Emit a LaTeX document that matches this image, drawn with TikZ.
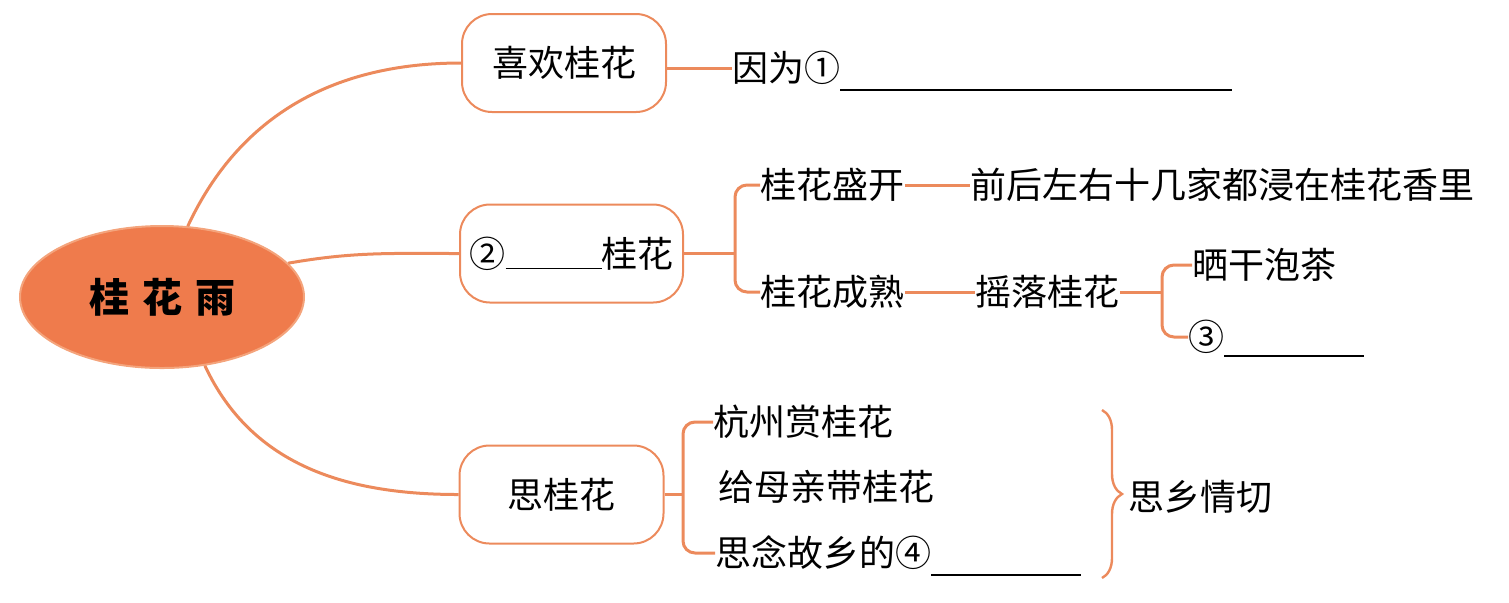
\documentclass[tikz,border=0pt]{standalone}
\usepackage{fontspec}
\usepackage{xcolor}
\usepackage{tikz}
\usetikzlibrary{positioning,shapes.geometric,decorations.pathreplacing}
\newfontfamily\cjk{Noto Sans CJK SC}
\definecolor{guihua}{HTML}{EF7B4C}
\definecolor{guiline}{HTML}{EC8A5C}
\definecolor{guiedge}{HTML}{F4A47C}

\begin{document}
\begin{tikzpicture}[x=0.5pt,y=-0.5pt,
    font=\cjk\fontsize{18}{22}\selectfont,
    topic/.style={draw=guiline,line width=1pt,rounded corners=15pt,minimum width=102pt,minimum height=49pt,inner sep=0pt},
    leaf/.style={anchor=west,inner sep=0pt},
    branch/.style={draw=guiline,line width=1.5pt},
    bracket/.style={branch,rounded corners=6pt}]
    \useasboundingbox (0,0) rectangle (1509,602);
    \node[ellipse,fill=guihua,draw=guiedge,line width=1pt,minimum width=142pt,minimum height=71pt,font=\cjk\bfseries\fontsize{20}{24}\selectfont] (root) at (162,297) {桂\hspace{6.5pt}花\hspace{6.5pt}雨};
    \node[topic] (like) at (564,63) {喜欢桂花};
    \node[topic,minimum width=111.5pt] (smell) at (571.5,253.5) {②\smash{\rule[-1pt]{48pt}{0.7pt}}桂花};
    \node[topic] (miss) at (561.5,494.5) {思桂花};
    \node[leaf] (because) at (732,68) {因为①\smash{\rule[-4.5pt]{196pt}{0.7pt}}};
    \node[leaf] (bloom) at (760,185) {桂花盛开};
    \node[leaf] (scent) at (970,185) {前后左右十几家都浸在桂花香里};
    \node[leaf] (ripe) at (760,292) {桂花成熟};
    \node[leaf] (shake) at (975,292) {摇落桂花};
    \node[leaf] (tea) at (1192,265) {晒干泡茶};
    \node[leaf] (blank3) at (1188,337) {③\smash{\rule[-3pt]{70pt}{0.7pt}}};
    \node[leaf] (hz) at (713,422) {杭州赏桂花};
    \node[leaf] (gift) at (718,487) {给母亲带桂花};
    \node[leaf] (think) at (715,553) {思念故乡的④\smash{\rule[-4.5pt]{75pt}{0.7pt}}};
    \node[leaf] (home) at (1128,497) {思乡情切};
    \draw[branch] (root.70) to[out=65,in=180] (like.west);
    \draw[branch] (root.15) to[out=10,in=180] (smell.west);
    \draw[branch] (root.-58) to[out=-65,in=180] (miss.west);
    \draw[branch] (like.east |- because.west) -- (because.west);
    \coordinate (fork2) at ([xshift=-12.5pt]bloom.west);
    \draw[bracket] (bloom.west) -- (fork2) |- (ripe.west);
    \draw[branch] (smell.east) -- (smell.east -| fork2);
    \draw[branch] (bloom.east) -- (scent.west);
    \draw[branch] (ripe.east) -- (shake.west);
    \coordinate (fork3) at ([xshift=-15pt]tea.west);
    \draw[bracket] (tea.west) -- (fork3) |- (blank3.west);
    \draw[branch] (shake.east) -- (shake.east -| fork3);
    \coordinate (fork4) at ([xshift=-15pt]hz.west);
    \draw[bracket] (hz.west) -- (fork4) |- (think.west);
    \draw[branch] (miss.east) -- (miss.east -| fork4);
    \coordinate (bracetop) at (1102,410);
    \coordinate (bracebot) at (1102,578);
    \draw[branch,line width=1.2pt,decorate,decoration={brace,amplitude=10pt}] (bracetop) -- (bracebot);
  \end{tikzpicture}
\end{document}
